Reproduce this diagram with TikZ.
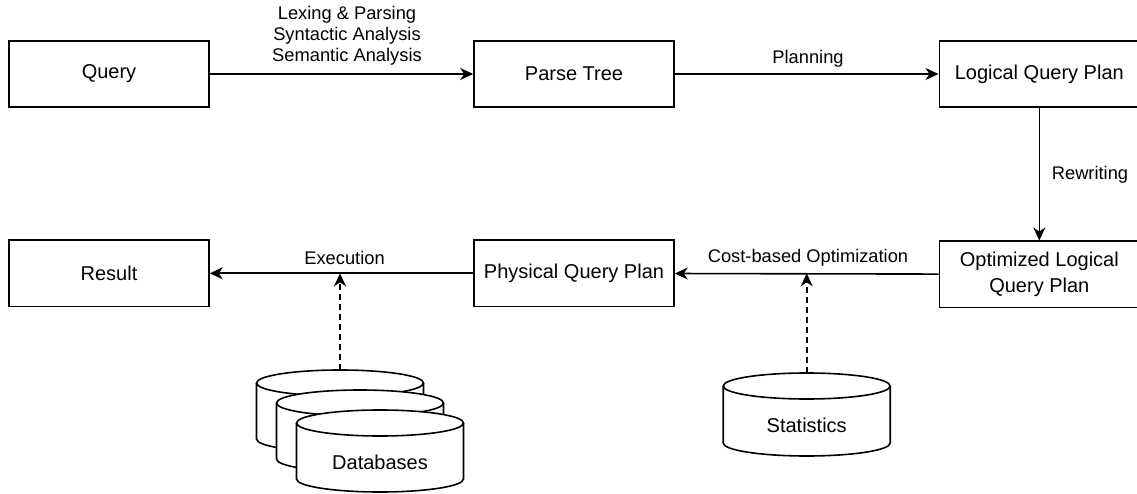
\documentclass[tikz,border=0pt]{standalone}
\usepackage{fontspec}
\setmainfont{Liberation Sans}
\usetikzlibrary{arrows.meta}
% drum: centre x, top y, bottom y
\newcommand{\drum}[3]{%
    \fill[white] (#1-83.5,#2-13) -- (#1-83.5,#3+13) arc[start angle=180, end angle=360, x radius=83.5, y radius=13] -- (#1+83.5,#2-13) arc[start angle=0, end angle=180, x radius=83.5, y radius=13] -- cycle;
    \draw (#1-83.5,#2-13) -- (#1-83.5,#3+13) arc[start angle=180, end angle=360, x radius=83.5, y radius=13] -- (#1+83.5,#2-13);
    \draw (#1,#2-13) ellipse [x radius=83.5, y radius=13];}

\begin{document}
\begin{tikzpicture}[x=1pt, y=1pt, line width=1.6pt,
    every node/.style={font=\fontsize{20}{22}\selectfont},
    box/.style={draw, minimum width=200pt, minimum height=66pt, inner sep=0pt},
    step label/.style={font=\fontsize{18.3}{21}\selectfont, align=center},
    flow/.style={-{Stealth[length=13pt, width=12pt, inset=4pt]}},
    feed/.style={flow, dash pattern=on 6pt off 4pt}]
    \useasboundingbox (0,0) rectangle (1137,493);

    % Top row
    \node[box] (query) at (109,419) {Query};
    \node[box] (parse) at (574,419) {Parse Tree};
    \node[box] (logical) at (1039.3,419) {Logical Query Plan};
    \node[step label] (lexing) at (347,457) {Lexing \& Parsing\\Syntactic Analysis\\Semantic Analysis};
    \node[step label] (planning) at (808,434) {Planning};

    % Rewriting step
    \node[step label] (rewriting) at (1090,318) {Rewriting};

    % Bottom row
    \node[box] (result) at (109,219.7) {Result};
    \node[box] (physical) at (574,219.7) {Physical Query Plan};
    \node[box, align=center] (optimized) at (1039.3,218.7) {Optimized Logical\\[4pt]Query Plan};
    \node[step label] (execution) at (344.5,235.3) {Execution};
    \node[step label] (costopt) at (808,235.3) {Cost-based Optimization};

    % Databases
    \drum{340}{123}{41}
    \drum{360}{103}{21}
    \drum{380}{83}{1}
    \node (databases) at (380,31) {Databases};
    \coordinate (dbtop) at (340,123);
    \coordinate (exectap) at (340,219.7);

    % Statistics
    \drum{806.7}{120}{37}
    \node (statistics) at (806.7,68) {Statistics};
    \coordinate (statstop) at (806.7,120);
    \coordinate (costtap) at (806.7,219.7);

    % Arrows
    \draw[flow] (query) -- (parse);
    \draw[flow] (parse) -- (logical);
    \draw[flow] (logical) -- (optimized);
    \draw[flow] (optimized) -- (physical);
    \draw[flow] (physical) -- (result);
    \draw[feed] (dbtop) -- (exectap);
    \draw[feed] (statstop) -- (costtap);

\end{tikzpicture}
\end{document}
